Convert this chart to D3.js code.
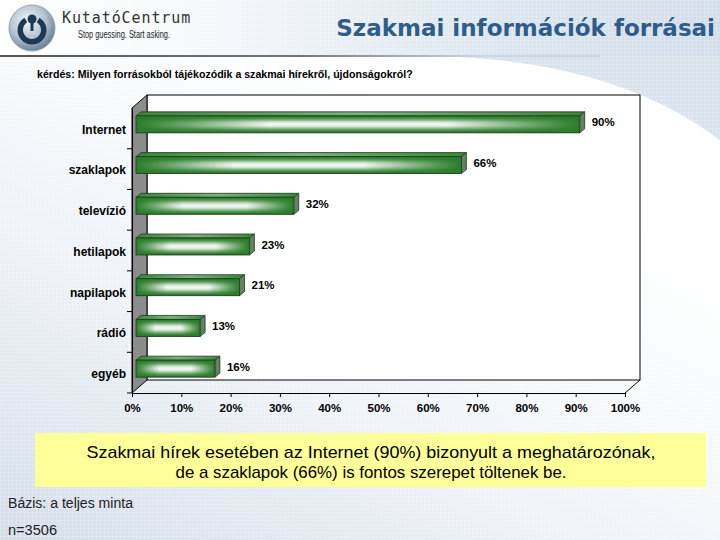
<!DOCTYPE html>
<html>
<head>
<meta charset="utf-8">
<script src="https://cdn.jsdelivr.net/npm/d3@7"></script>
<style>
  html, body { margin: 0; padding: 0; background: #fff; }
  svg { display: block; }
</style>
</head>
<body>
<script>
// data
const categories = ['Internet', 'szaklapok', 'televízió', 'hetilapok', 'napilapok', 'rádió', 'egyéb'];
const values = [90, 66, 32, 23, 21, 13, 16];
const tickValues = [0, 10, 20, 30, 40, 50, 60, 70, 80, 90, 100];
const tickLabels = tickValues.map(d => d + '%');
const title = 'Szakmai információk forrásai';
const question = 'kérdés: Milyen forrásokból tájékozódik a szakmai hírekről, újdonságokról?';
const noteLines = ['Szakmai hírek esetében az Internet (90%) bizonyult a meghatározónak,',
                   'de a szaklapok (66%) is fontos szerepet töltenek be.'];
const baseLines = ['Bázis: a teljes minta', 'n=3506'];

const W = 720, H = 540;
const svg = d3.select('body').append('svg')
  .attr('xmlns', 'http://www.w3.org/2000/svg')
  .attr('width', W).attr('height', H);

const defs = svg.append('defs');

// background gradients
const bgGrad = defs.append('linearGradient').attr('id', 'bg')
  .attr('x1', 0).attr('y1', 1).attr('x2', 0.6).attr('y2', 0.2);
bgGrad.append('stop').attr('offset', 0).attr('stop-color', '#d3dde9');
bgGrad.append('stop').attr('offset', 0.45).attr('stop-color', '#eef2f7');
bgGrad.append('stop').attr('offset', 1).attr('stop-color', '#ffffff');

const headGrad = defs.append('linearGradient').attr('id', 'head')
  .attr('x1', 0).attr('y1', 0).attr('x2', 1).attr('y2', 0);
headGrad.append('stop').attr('offset', 0).attr('stop-color', '#ffffff');
headGrad.append('stop').attr('offset', 0.3).attr('stop-color', '#f4f7fa');
headGrad.append('stop').attr('offset', 0.7).attr('stop-color', '#dbe5ef');
headGrad.append('stop').attr('offset', 1).attr('stop-color', '#d2deea');

const lineGrad = defs.append('linearGradient').attr('id', 'hline')
  .attr('x1', 0).attr('y1', 0).attr('x2', 1).attr('y2', 0);
lineGrad.append('stop').attr('offset', 0).attr('stop-color', '#555');
lineGrad.append('stop').attr('offset', 0.5).attr('stop-color', '#777');
lineGrad.append('stop').attr('offset', 0.8).attr('stop-color', '#ccd6e0');

const grid = defs.append('pattern').attr('id', 'grid')
  .attr('width', 4).attr('height', 4).attr('patternUnits', 'userSpaceOnUse');
grid.append('path').attr('d', 'M4 0H0V4').attr('fill', 'none')
  .attr('stroke', '#ffffff').attr('stroke-width', 1).attr('opacity', 0.35);

// bar face: dark-light-dark vertically, darker toward both ends
const barGrad = defs.append('linearGradient').attr('id', 'bar')
  .attr('x1', 0).attr('y1', 0).attr('x2', 0).attr('y2', 1);
[[0, '#1f6a1f'], [0.18, '#5c9f5c'], [0.38, '#e4efe4'], [0.5, '#ffffff'],
 [0.62, '#e4efe4'], [0.82, '#5c9f5c'], [1, '#1b641b']].forEach(([o, c]) =>
  barGrad.append('stop').attr('offset', o).attr('stop-color', c));

const endGrad = defs.append('linearGradient').attr('id', 'barends')
  .attr('x1', 0).attr('y1', 0).attr('x2', 1).attr('y2', 0);
[[0, 1], [0.1, 0.7], [0.3, 0.05], [0.7, 0.05], [0.9, 0.7], [1, 1]].forEach(([o, a]) =>
  endGrad.append('stop').attr('offset', o).attr('stop-color', '#2a7c2a').attr('stop-opacity', a));

const topGrad = defs.append('linearGradient').attr('id', 'bartop')
  .attr('x1', 0).attr('y1', 0).attr('x2', 1).attr('y2', 0);
topGrad.append('stop').attr('offset', 0).attr('stop-color', '#3a853a');
topGrad.append('stop').attr('offset', 0.5).attr('stop-color', '#7fb07f');
topGrad.append('stop').attr('offset', 1).attr('stop-color', '#3a853a');

const logoGrad = defs.append('radialGradient').attr('id', 'logo')
  .attr('cx', 0.4).attr('cy', 0.35).attr('r', 0.65);
logoGrad.append('stop').attr('offset', 0).attr('stop-color', '#f2f5f8');
logoGrad.append('stop').attr('offset', 0.6).attr('stop-color', '#b4c3d1');
logoGrad.append('stop').attr('offset', 1).attr('stop-color', '#6d8399');

// background
svg.append('rect').attr('width', W).attr('height', H).attr('fill', 'url(#bg)');
svg.append('rect').attr('width', W).attr('height', 56).attr('fill', 'url(#head)');
svg.append('path')
  .attr('d', 'M430,56 C540,58 640,80 720,140 L720,56 Z')
  .attr('fill', '#d8e3ee');
svg.append('rect').attr('width', W).attr('height', H).attr('fill', 'url(#grid)');
svg.append('rect').attr('x', 0).attr('y', 55).attr('width', 600).attr('height', 2)
  .attr('fill', 'url(#hline)');

// logo
const logo = svg.append('g');
logo.append('circle').attr('cx', 32).attr('cy', 28).attr('r', 23)
  .attr('fill', 'url(#logo)').attr('stroke', '#8fa3b6').attr('stroke-width', 1);
const ringArc = d3.arc().innerRadius(9).outerRadius(14.5)
  .startAngle(0.55).endAngle(2 * Math.PI - 0.55);
logo.append('path').attr('transform', 'translate(32,30)')
  .attr('d', ringArc()).attr('fill', '#1d3a52');
logo.append('circle').attr('cx', 32).attr('cy', 19).attr('r', 4.5).attr('fill', '#1d3a52');
logo.append('rect').attr('x', 30.5).attr('y', 20).attr('width', 3).attr('height', 11)
  .attr('fill', '#1d3a52');
logo.append('text').attr('x', 62).attr('y', 23)
  .attr('font-family', 'DejaVu Sans Mono').attr('font-size', 15)
  .attr('letter-spacing', 0.9).attr('fill', '#333')
  .text('KutatóCentrum');
logo.append('text').attr('x', 78).attr('y', 38)
  .attr('font-family', 'Liberation Sans').attr('font-size', 10)
  .attr('textLength', 92).attr('lengthAdjust', 'spacingAndGlyphs').attr('fill', '#222')
  .text('Stop guessing. Start asking.');

// title
svg.append('text').attr('x', 715).attr('y', 36)
  .attr('text-anchor', 'end')
  .attr('font-family', 'DejaVu Sans').attr('font-weight', 'bold').attr('font-size', 23)
  .attr('fill', '#2f5d8b')
  .text(title);

svg.append('text').attr('x', 37).attr('y', 78)
  .attr('font-family', 'Liberation Sans').attr('font-weight', 'bold').attr('font-size', 10.6)
  .attr('fill', '#000')
  .text(question);

// 3D chart geometry
const depth = { dx: 15, dy: -13 };
const barDepth = { dx: 5, dy: -4 };
const x = d3.scaleLinear().domain([0, 100]).range([132, 625]);
const y = d3.scaleBand().domain(categories).range([108, 393]).paddingInner(0).paddingOuter(0);
const y0 = 393, yTop = 108;

const chart = svg.append('g');

// back wall
chart.append('rect')
  .attr('x', x(0) + depth.dx).attr('y', yTop + depth.dy)
  .attr('width', x(100) - x(0)).attr('height', y0 - yTop)
  .attr('fill', '#fff').attr('stroke', '#000').attr('stroke-width', 1);
// left wall
chart.append('path')
  .attr('d', `M${x(0)},${yTop} L${x(0) + depth.dx},${yTop + depth.dy} L${x(0) + depth.dx},${y0 + depth.dy} L${x(0)},${y0} Z`)
  .attr('fill', '#8c8c8c').attr('stroke', '#000').attr('stroke-width', 1);
// floor edge
chart.append('path')
  .attr('d', `M${x(100)},${y0} L${x(100) + depth.dx},${y0 + depth.dy}`)
  .attr('stroke', '#000').attr('fill', 'none');

// axes
const xAxis = d3.axisBottom(x).tickValues(tickValues)
  .tickFormat((d, i) => tickLabels[i]).tickSize(4).tickSizeOuter(0);
const gx = chart.append('g').attr('transform', `translate(0,${y0})`).call(xAxis);
gx.select('.domain').attr('stroke', '#000');
gx.selectAll('text').attr('font-family', 'Liberation Sans').attr('font-weight', 'bold')
  .attr('font-size', 11.5).attr('fill', '#000').attr('dy', '1.0em');

const yAxis = d3.axisLeft(y).tickSize(0).tickPadding(6);
const gy = chart.append('g').attr('transform', `translate(${x(0)},0)`).call(yAxis);
gy.select('.domain').attr('stroke', '#000');
gy.selectAll('text').attr('font-family', 'Liberation Sans').attr('font-weight', 'bold')
  .attr('font-size', 12).attr('fill', '#000').attr('dy', '0.45em');
// band boundary ticks on the left axis
chart.append('g').selectAll('line')
  .data(categories.slice(1).concat(['__end']))
  .join('line')
  .attr('x1', x(0) - 5).attr('x2', x(0))
  .attr('y1', d => d === '__end' ? y0 : y(d))
  .attr('y2', d => d === '__end' ? y0 : y(d))
  .attr('stroke', '#000');

// bars
const barH = 17;
const off = 4;
const bars = chart.append('g').selectAll('g')
  .data(categories.map((c, i) => ({ c, v: values[i] })))
  .join('g');

const faceY = d => y(d.c) + y.bandwidth() / 2 - 4 - barH / 2;

bars.append('path')
  .attr('d', d => {
    const x0 = x(0) + off, x1 = x(d.v) + off, t = faceY(d);
    return `M${x0},${t} L${x0 + barDepth.dx},${t + barDepth.dy} L${x1 + barDepth.dx},${t + barDepth.dy} L${x1},${t} Z`;
  })
  .attr('fill', 'url(#bartop)').attr('stroke', '#1b3f1b').attr('stroke-width', 0.8);
bars.append('path')
  .attr('d', d => {
    const x1 = x(d.v) + off, t = faceY(d), b = t + barH;
    return `M${x1},${t} L${x1 + barDepth.dx},${t + barDepth.dy} L${x1 + barDepth.dx},${b + barDepth.dy} L${x1},${b} Z`;
  })
  .attr('fill', '#667f66').attr('stroke', '#1b3f1b').attr('stroke-width', 0.8);
bars.append('rect')
  .attr('x', x(0) + off).attr('y', faceY)
  .attr('width', d => x(d.v) - x(0)).attr('height', barH)
  .attr('fill', 'url(#bar)');
bars.append('rect')
  .attr('x', x(0) + off).attr('y', faceY)
  .attr('width', d => x(d.v) - x(0)).attr('height', barH)
  .attr('fill', 'url(#barends)').attr('stroke', '#1b3f1b').attr('stroke-width', 0.8);

bars.append('text')
  .attr('x', d => x(d.v) + off + 12)
  .attr('y', d => faceY(d) + barH / 2 + 2)
  .attr('font-family', 'Liberation Sans').attr('font-weight', 'bold').attr('font-size', 11.5)
  .attr('fill', '#000')
  .text(d => d.v + '%');

// yellow note box
svg.append('rect').attr('x', 35).attr('y', 433).attr('width', 671).attr('height', 54)
  .attr('fill', '#ffff99');
const noteWidths = [569, 391];
svg.append('g').selectAll('text').data(noteLines).join('text')
  .attr('x', 371).attr('y', (d, i) => 458 + i * 20)
  .attr('text-anchor', 'middle')
  .attr('font-family', 'Liberation Sans').attr('font-size', 17).attr('fill', '#000')
  .attr('textLength', (d, i) => noteWidths[i]).attr('lengthAdjust', 'spacingAndGlyphs')
  .text(d => d);

const baseWidths = [125, 49];
svg.append('g').selectAll('text').data(baseLines).join('text')
  .attr('x', 8).attr('y', (d, i) => 508 + i * 27)
  .attr('font-family', 'Liberation Sans').attr('font-size', 14).attr('fill', '#222')
  .attr('textLength', (d, i) => baseWidths[i]).attr('lengthAdjust', 'spacingAndGlyphs')
  .text(d => d);
</script>
</body>
</html>
